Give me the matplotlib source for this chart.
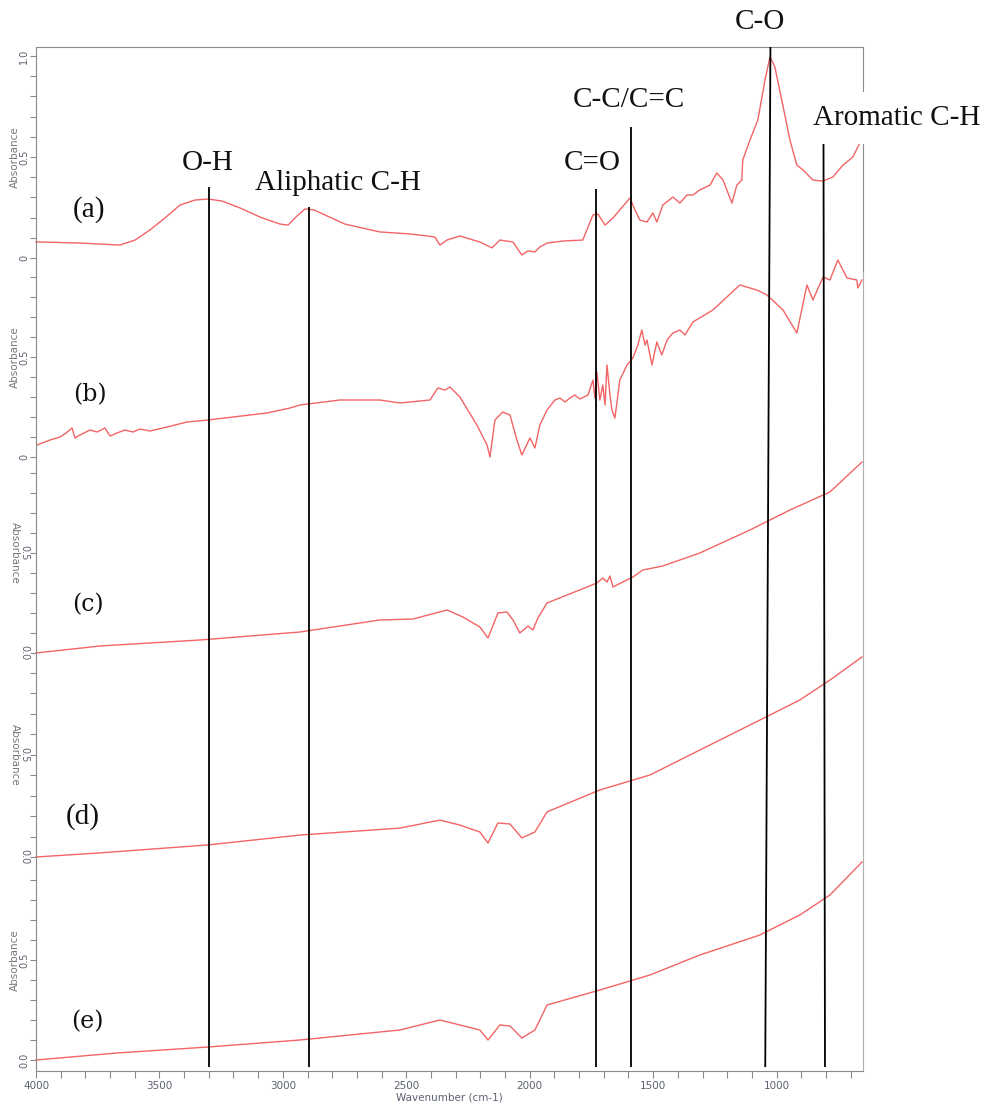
import numpy as np
import matplotlib.pyplot as plt
import matplotlib.transforms as mtransforms

W_PX, H_PX = 987, 1108

# ---- spectra (wavenumber cm-1, absorbance) ----
wn_a = [4000, 3822, 3660, 3599, 3538, 3478, 3417, 3356, 3303, 3247, 3174, 3093,
        3012, 2979, 2947, 2910, 2874, 2829, 2749, 2607, 2485, 2384, 2364, 2335,
        2283, 2202, 2153, 2121, 2068, 2032, 2007, 1979, 1959, 1930, 1866, 1785,
        1744, 1724, 1695, 1663, 1594, 1574, 1554, 1525, 1501, 1485, 1461, 1420,
        1392, 1363, 1339, 1311, 1270, 1242, 1217, 1181, 1161, 1141, 1137, 1108,
        1076, 1047, 1027, 1007, 979, 946, 918, 893, 853, 812, 772, 731, 691, 663]
abs_a = [0.08, 0.074, 0.064, 0.089, 0.139, 0.198, 0.262, 0.287, 0.292, 0.282, 0.248, 0.203,
         0.168, 0.163, 0.203, 0.243, 0.238, 0.213, 0.168, 0.129, 0.119, 0.104, 0.064, 0.089,
         0.109, 0.079, 0.05, 0.089, 0.079, 0.015, 0.035, 0.03, 0.054, 0.074, 0.084, 0.089,
         0.213, 0.218, 0.163, 0.198, 0.297, 0.238, 0.188, 0.178, 0.223, 0.178, 0.262, 0.302,
         0.272, 0.312, 0.312, 0.337, 0.361, 0.421, 0.386, 0.272, 0.361, 0.386, 0.485, 0.584,
         0.683, 0.881, 0.995, 0.946, 0.782, 0.584, 0.46, 0.436, 0.386, 0.381, 0.401, 0.46, 0.5, 0.569]

wn_b = [3996, 3943, 3903, 3878, 3854, 3842, 3822, 3781, 3753, 3721, 3700, 3672,
        3640, 3607, 3579, 3538, 3469, 3388, 3303, 3202, 3064, 2971, 2931, 2769,
        2607, 2526, 2404, 2372, 2343, 2323, 2283, 2214, 2173, 2161, 2141, 2109,
        2080, 2052, 2032, 1999, 1979, 1959, 1930, 1898, 1878, 1857, 1837, 1817,
        1797, 1764, 1744, 1736, 1728, 1716, 1704, 1695, 1687, 1675, 1667, 1655,
        1635, 1606, 1582, 1562, 1546, 1533, 1525, 1505, 1485, 1465, 1444, 1420,
        1392, 1371, 1339, 1258, 1149, 1080, 1039, 974, 918, 877, 853, 812,
        784, 752, 715, 675, 671, 654]
abs_b = [0.06, 0.085, 0.10, 0.12, 0.145, 0.095, 0.11, 0.135, 0.125, 0.145, 0.105, 0.12,
         0.135, 0.125, 0.14, 0.13, 0.15, 0.175, 0.185, 0.20, 0.22, 0.245, 0.26, 0.285,
         0.285, 0.27, 0.285, 0.345, 0.335, 0.35, 0.30, 0.16, 0.06, 0.0, 0.185, 0.225,
         0.21, 0.085, 0.01, 0.095, 0.045, 0.16, 0.235, 0.285, 0.295, 0.275, 0.295, 0.31,
         0.29, 0.31, 0.385, 0.295, 0.425, 0.285, 0.36, 0.26, 0.46, 0.31, 0.235, 0.195,
         0.385, 0.46, 0.495, 0.56, 0.635, 0.56, 0.585, 0.46, 0.575, 0.51, 0.585, 0.62,
         0.635, 0.61, 0.675, 0.735, 0.86, 0.835, 0.81, 0.735, 0.62, 0.86, 0.785, 0.90,
         0.885, 0.985, 0.895, 0.885, 0.845, 0.885]

wn_c = [4000, 3741, 3336, 2931, 2607, 2473, 2335, 2271, 2202, 2169, 2129, 2092,
        2068, 2040, 2007, 1987, 1967, 1930, 1849, 1768, 1728, 1704, 1687, 1675,
        1663, 1623, 1582, 1542, 1461, 1392, 1311, 1108, 946, 784, 654]
abs_c = [0.0, 0.035, 0.065, 0.105, 0.165, 0.17, 0.215, 0.18, 0.13, 0.075, 0.20, 0.205,
         0.165, 0.10, 0.135, 0.115, 0.175, 0.25, 0.29, 0.33, 0.35, 0.375, 0.355, 0.385,
         0.33, 0.355, 0.38, 0.415, 0.435, 0.465, 0.50, 0.615, 0.715, 0.805, 0.955]

wn_d = [4000, 3741, 3303, 2931, 2526, 2364, 2283, 2202, 2169, 2129, 2080, 2032,
        1979, 1930, 1716, 1513, 1311, 1068, 906, 784, 654]
abs_d = [0.0, 0.02, 0.059, 0.107, 0.141, 0.18, 0.156, 0.122, 0.068, 0.166, 0.161, 0.093,
         0.122, 0.22, 0.327, 0.40, 0.522, 0.668, 0.766, 0.863, 0.976]

wn_e = [4000, 3672, 3303, 2931, 2526, 2364, 2283, 2202, 2169, 2121, 2080, 2032,
        1979, 1930, 1716, 1513, 1311, 1068, 906, 784, 654]
abs_e = [0.0, 0.035, 0.065, 0.10, 0.15, 0.20, 0.175, 0.15, 0.10, 0.175, 0.17, 0.11,
         0.15, 0.275, 0.35, 0.425, 0.525, 0.625, 0.725, 0.825, 0.99]

# ---- band assignments ----
band_names = ["O-H", "Aliphatic C-H", "C=O", "C-C/C=C", "C-O", "Aromatic C-H"]
band_wn_top = [3300, 2895, 1730, 1588, 1025, 810]
band_wn_bottom = [3300, 2895, 1730, 1588, 1046, 804]

x_ticks = [4000, 3500, 3000, 2500, 2000, 1500, 1000]
x_tick_labels = ["4000", "3500", "3000", "2500", "2000", "1500", "1000"]


def fx(px):
    return px / W_PX


def fy(py):
    return 1 - py / H_PX


fig = plt.figure(figsize=(W_PX / 100, H_PX / 100), dpi=100)

LEFT, RIGHT = 36, 863
red = "#f36464"
axis_grey = "#8a8a8a"
label_grey = "#5b6170"

# (label, wn, abs, top px, bottom px, zero px, px per unit, tick labels, rotation)
panels = [
    ("(a)", wn_a, abs_a, 47, 272, 258, 202, {1.0: "1.0", 0.5: "0.5", 0.0: "0"}, 90),
    ("(b)", wn_b, abs_b, 272, 470, 457, 200, {0.5: "0.5", 0.0: "0"}, 90),
    ("(c)", wn_c, abs_c, 470, 668, 653, 200, {0.5: "0.5", 0.0: "0.0"}, 270),
    ("(d)", wn_d, abs_d, 668, 868, 857, 205, {0.5: "0.5", 0.0: "0.0"}, 270),
    ("(e)", wn_e, abs_e, 868, 1071, 1060, 200, {0.5: "0.5", 0.0: "0.0"}, 90),
]

axes = []
for i, (lab, wn, ab, top, bot, zero, scale, tl, rot) in enumerate(panels):
    ax = fig.add_axes([fx(LEFT), fy(bot), fx(RIGHT) - fx(LEFT), (bot - top) / H_PX])
    ax.patch.set_alpha(0)
    ax.set_xlim(4000, 650)
    ax.set_ylim((zero - bot) / scale, (zero - top) / scale)
    ax.plot(wn, ab, color=red, lw=1.0, clip_on=False)

    lo, hi = ax.get_ylim()
    ticks = [t for t in np.round(np.arange(-0.3, 1.11, 0.1), 1) if lo <= t <= hi]
    ax.set_yticks(ticks)
    ax.set_yticklabels([tl.get(t, "") for t in ticks], rotation=rot, va="center",
                       fontsize=7, color=label_grey)
    ax.tick_params(axis="y", direction="out", length=4, width=0.8, color=axis_grey, pad=1)

    ax.spines["left"].set_color(axis_grey)
    ax.spines["right"].set_color("#b0b0b0")
    ax.spines["top"].set_visible(i == 0)
    ax.spines["top"].set_color(axis_grey)
    ax.spines["bottom"].set_visible(i == len(panels) - 1)
    ax.spines["bottom"].set_color(axis_grey)
    if i == 0:
        ax.spines["right"].set_color(axis_grey)

    ax.set_ylabel("Absorbance", fontsize=7.5, color="#777777", rotation=rot,
                  ha="center", va="center", rotation_mode="anchor")
    blend = mtransforms.blended_transform_factory(ax.transAxes, ax.transData)
    ax.yaxis.set_label_coords(-0.0255, 0.5, transform=blend)

    if i == len(panels) - 1:
        ax.set_xticks(x_ticks)
        ax.set_xticklabels(x_tick_labels, fontsize=7.5, color=label_grey)
        ax.set_xticks(np.arange(700, 4000, 100), minor=True)
        ax.tick_params(axis="x", which="both", direction="out", length=5, width=0.8,
                       color=axis_grey, pad=2)
        ax.set_xlabel("Wavenumber (cm-1)", fontsize=7.5, color=label_grey, labelpad=1)
    else:
        ax.set_xticks([])
    axes.append(ax)

# overlay for the band marker lines (y in reference pixel units)
ov = fig.add_axes([fx(LEFT), 0, fx(RIGHT) - fx(LEFT), 1])
ov.set_xlim(4000, 650)
ov.set_ylim(H_PX, 0)
ov.axis("off")
ov.patch.set_alpha(0)
ov.set_zorder(5)
line_tops = [187, 207, 189, 127, 47, 143]
for wt, wb, yt in zip(band_wn_top, band_wn_bottom, line_tops):
    ov.plot([wt, wb], [yt, 1067], color="black", lw=1.3, solid_capstyle="butt")

# band labels
serif = "Liberation Serif"
label_pos = [(208, 163), (338, 183), (592, 163), (629, 100), (760, 22), (897, 118)]
for name, (px, py) in zip(band_names, label_pos):
    kw = {}
    if name == "Aromatic C-H":
        kw["bbox"] = dict(boxstyle="square,pad=0.45", fc="white", ec="none")
    fig.text(fx(px), fy(py), name, ha="center", va="center", fontsize=21,
             family=serif, color="#111111", zorder=6, **kw)

# panel letters
letter_pos = [(89, 210), (90, 395), (88, 605), (83, 817), (87, 1022)]
letter_font = [("Liberation Serif", 21), ("DejaVu Serif", 17), ("DejaVu Serif", 17),
               ("Liberation Serif", 21), ("DejaVu Serif", 17)]
for (lab, *_), (px, py), (fam, fs) in zip(panels, letter_pos, letter_font):
    fig.text(fx(px), fy(py), lab, ha="center", va="center", fontsize=fs,
             family=fam, color="#111111")

fig.savefig("out.png", dpi=100)
